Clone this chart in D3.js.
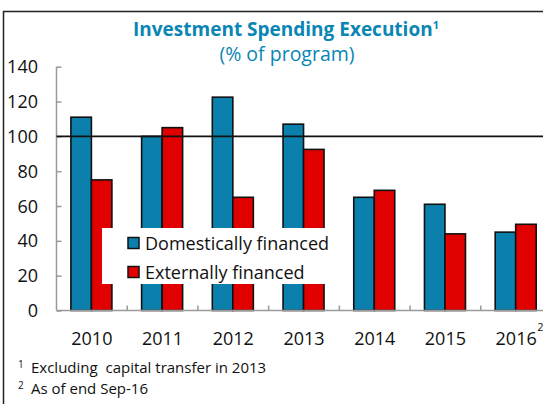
<!DOCTYPE html>
<html>
<head>
<meta charset="utf-8">
<script src="https://cdn.jsdelivr.net/npm/d3@7"></script>
<style>
  body { margin: 0; background: #fff; }
  svg { display: block; font-family: "Open Sans", "DejaVu Sans", sans-serif; }
</style>
</head>
<body>
<div id="chart"></div>
<script>
// data
const years = ['2010', '2011', '2012', '2013', '2014', '2015', '2016'];
const seriesNames = ['Domestically financed', 'Externally financed'];
const domestic = [111, 100, 122.5, 107, 65, 61, 45];
const external = [75, 105, 65, 92.5, 69, 44, 49.5];
const yTicks = [0, 20, 40, 60, 80, 100, 120, 140];
const footnotes = [
  { sup: '1', text: 'Excluding  capital transfer in 2013' },
  { sup: '2', text: 'As of end Sep-16' }
];

const W = 543, H = 404;
const blue = '#0b80ad', red = '#e10000';
const colors = [blue, red];

const svg = d3.select('#chart').append('svg')
  .attr('width', W).attr('height', H);

// frame
svg.append('line').attr('x1', 3.5).attr('x2', 3.5).attr('y1', 11).attr('y2', H)
  .attr('stroke', '#222').attr('stroke-width', 1.5);
svg.append('line').attr('x1', 3).attr('x2', W).attr('y1', 11.5).attr('y2', 11.5)
  .attr('stroke', '#222').attr('stroke-width', 1.5);

// title
const title = svg.append('text')
  .attr('x', 286).attr('y', 36)
  .attr('text-anchor', 'middle')
  .attr('fill', '#0a86b4')
  .attr('font-size', 19).attr('font-weight', 'bold');
title.append('tspan').text('Investment Spending Execution');
title.append('tspan').attr('font-size', 11).attr('dy', -7).text('1');

svg.append('text')
  .attr('x', 287).attr('y', 61)
  .attr('text-anchor', 'middle')
  .attr('fill', '#0a86b4')
  .attr('font-size', 19.5)
  .text('(% of program)');

// scales
const x0 = d3.scaleBand().domain(years).range([56.5, 551.5]);
const x1 = d3.scaleBand().domain(seriesNames).range([14.4, 55.4]);
const y = d3.scaleLinear().domain([0, 140]).range([310.5, 66.7]);

const rows = years.map((yr, i) => ({ year: yr, vals: [domestic[i], external[i]] }));

// axes
const axisColor = '#9a9a9a';
const yAxis = svg.append('g')
  .attr('transform', 'translate(56.5,0)')
  .call(d3.axisRight(y).tickValues(yTicks).tickSize(5).tickFormat(''));
yAxis.select('.domain').attr('stroke', axisColor).attr('stroke-width', 1.5)
  .attr('d', `M0,${y(140)}V${y(0)}`);
yAxis.selectAll('.tick line').attr('stroke', axisColor).attr('stroke-width', 1.5);

svg.append('g').selectAll('text').data(yTicks).join('text')
  .attr('x', 38).attr('y', d => y(d) + 6.5)
  .attr('text-anchor', 'end')
  .attr('font-size', 18).attr('fill', '#111')
  .text(d => d);

// bars
const groups = svg.append('g').selectAll('g').data(rows).join('g')
  .attr('transform', d => `translate(${x0(d.year)},0)`);
groups.selectAll('rect').data(d => d.vals.map((v, k) => ({ v, k })))
  .join('rect')
  .attr('x', d => x1(seriesNames[d.k]))
  .attr('width', x1.bandwidth())
  .attr('y', d => y(d.v))
  .attr('height', d => y(0) - y(d.v))
  .attr('fill', d => colors[d.k])
  .attr('stroke', '#111').attr('stroke-width', 1.6);

// x axis
const xAxisG = svg.append('g').attr('transform', `translate(0,${y(0)})`);
xAxisG.append('line').attr('x1', 56.5).attr('x2', W).attr('y1', 0).attr('y2', 0)
  .attr('stroke', axisColor).attr('stroke-width', 1.5);
xAxisG.selectAll('line.tk').data(years.slice(1)).join('line')
  .attr('class', 'tk')
  .attr('x1', d => x0(d)).attr('x2', d => x0(d))
  .attr('y1', 0).attr('y2', -5)
  .attr('stroke', axisColor).attr('stroke-width', 1.5);
xAxisG.selectAll('text').data(years).join('text')
  .attr('x', d => x0(d) + x0.bandwidth() / 2)
  .attr('y', 34.5)
  .attr('text-anchor', 'middle')
  .attr('font-size', 18).attr('fill', '#111')
  .text(d => d);
// superscript on 2016
xAxisG.append('text')
  .attr('x', x0('2016') + x0.bandwidth() / 2 + 21).attr('y', 20)
  .attr('font-size', 11).attr('fill', '#111')
  .text('2');

// reference line at 100
svg.append('line')
  .attr('x1', 56.5).attr('x2', W)
  .attr('y1', y(100)).attr('y2', y(100))
  .attr('stroke', '#111').attr('stroke-width', 1.8);

// legend
const leg = svg.append('g');
leg.append('rect').attr('x', 102).attr('y', 228).attr('width', 230).attr('height', 56)
  .attr('fill', '#fff');
const items = leg.selectAll('g').data(seriesNames).join('g')
  .attr('transform', (d, i) => `translate(128,${243 + i * 29})`);
items.append('rect').attr('x', 0).attr('y', -5.5).attr('width', 11).attr('height', 11)
  .attr('fill', (d, i) => colors[i]).attr('stroke', '#111').attr('stroke-width', 1.5);
items.append('text').attr('x', 17).attr('y', 6.5)
  .attr('font-size', 18).attr('fill', '#111')
  .text(d => d);

// footnotes
const fn = svg.append('g').selectAll('text').data(footnotes).join('text')
  .attr('x', 18).attr('y', (d, i) => 373 + i * 21)
  .attr('font-size', 15).attr('fill', '#111')
  .style('white-space', 'pre');
fn.append('tspan').attr('font-size', 10).attr('dy', -5).text(d => d.sup);
fn.append('tspan').attr('x', 31).attr('dy', 5).text(d => d.text);
</script>
</body>
</html>
